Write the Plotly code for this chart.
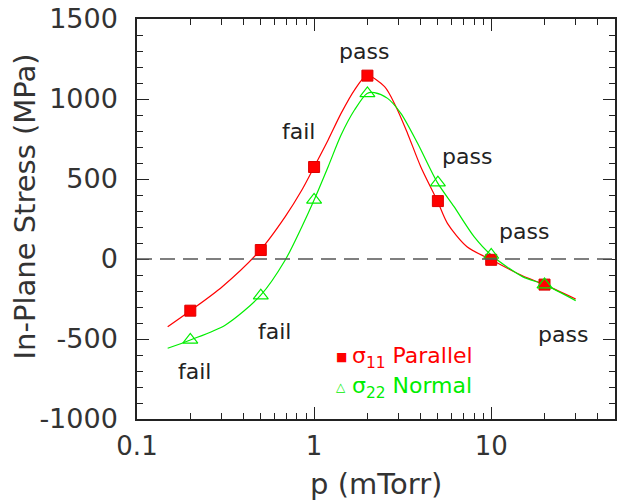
import math
import plotly.graph_objects as go

# measured data points
p_pts = [0.2, 0.5, 1, 2, 5, 10, 20]
s11_pts = [-323, 56, 575, 1146, 362, -5, -160]
s22_pts = [-506, -229, 369, 1035, 477, 25, -160]

# fitted curves
p_fit11 = [0.149, 0.2, 0.303, 0.497, 0.687, 0.853, 1, 1.2, 1.42, 1.69, 1.99, 2.5, 2.9, 3.37, 4.0, 4.97, 5.66, 7.3, 10, 15, 20, 30]
s11_fit = [-423, -323, -173, 56, 265, 431, 575, 744, 910, 1056, 1146, 1077, 952, 785, 577, 362, 223, 77, -5, -105, -160, -250]
p_fit22 = [0.149, 0.2, 0.316, 0.497, 0.687, 0.853, 1, 1.2, 1.42, 1.69, 1.99, 2.19, 2.6, 3.09, 3.84, 4.97, 6.17, 8.0, 10, 15, 20, 30]
s22_fit = [-558, -506, -412, -229, -6, 202, 369, 577, 775, 931, 1035, 1040, 1004, 910, 723, 477, 327, 140, 25, -110, -160, -260]

labels = ["pass", "fail", "pass", "pass", "pass", "fail", "fail"]
label_x = [1.92, 0.813, 7.33, 15.3, 25.4, 0.596, 0.212]
label_y = [1294, 794, 640, 175, -469, -450, -700]

y_ticks = [-1000, -500, 0, 500, 1000, 1500]
y_ticktext = ["-1000", "-500", "0", "500", "1000", "1500"]
x_ticks = [0.1, 1, 10]
x_ticktext = ["0.1", "1", "10"]

RED = "#ff0000"
GREEN = "#00ee00"
FONT = "DejaVu Sans"
TXT = "#222222"

fig = go.Figure()
fig.add_trace(go.Scatter(x=p_fit11, y=s11_fit, mode="lines", line=dict(color=RED, width=1.2, shape="spline", smoothing=0.8), showlegend=False, hoverinfo="skip"))
fig.add_trace(go.Scatter(x=p_fit22, y=s22_fit, mode="lines", line=dict(color=GREEN, width=1.2, shape="spline", smoothing=0.8), showlegend=False, hoverinfo="skip"))
fig.add_trace(go.Scatter(x=p_pts, y=s11_pts, mode="markers", marker=dict(symbol="square", size=11, color=RED, line=dict(color="#dd0000", width=1)), showlegend=False))
fig.add_trace(go.Scatter(x=p_pts, y=s22_pts, mode="markers", marker=dict(symbol="triangle-up-open", size=13, color=GREEN, line=dict(width=1.2)), showlegend=False))

for t, x, y in zip(labels, label_x, label_y):
    fig.add_annotation(x=math.log10(x), y=y, text=t, showarrow=False,
                       font=dict(family=FONT, size=22, color=TXT))

# legend drawn as text
def px2paper(px, py):
    return (px - 137) / 480, (419 - py) / 400

for sym, col, txt, py in [("■", RED, "σ<sub>11</sub> Parallel", 357), ("△", GREEN, "σ<sub>22</sub> Normal", 387)]:
    xp, yp = px2paper(342, py)
    fig.add_annotation(xref="paper", yref="paper", x=xp, y=yp, text=sym, showarrow=False,
                       font=dict(family=FONT, size=12, color=col), xanchor="center", yanchor="middle")
    xp, yp = px2paper(351, py)
    fig.add_annotation(xref="paper", yref="paper", x=xp, y=yp, text=txt, showarrow=False,
                       font=dict(family=FONT, size=22, color=col), xanchor="left", yanchor="middle")

fig.add_shape(type="line", xref="paper", x0=0, x1=1, yref="y", y0=0, y1=0,
              line=dict(color="#555555", width=1.5, dash="15px,8px"))

minor_x = [v * m for m in (0.1, 1, 10) for v in range(2, 10)]
minor_x = [v for v in minor_x if v <= 50]

fig.update_xaxes(type="log", range=[-1, 1.699], tickvals=x_ticks, ticktext=x_ticktext,
                 ticks="inside", ticklen=12, tickwidth=1.3, tickcolor="#222",
                 minor=dict(tickvals=minor_x, ticks="inside", ticklen=6, tickcolor="#222"),
                 showline=True, linecolor="#222", linewidth=1.5, mirror="ticks", showgrid=False, zeroline=False,
                 tickfont=dict(family=FONT, size=26, color="#333"), ticklabelstandoff=3)
fig.update_yaxes(range=[-1000, 1500], tickvals=y_ticks, ticktext=y_ticktext,
                 ticks="inside", ticklen=12, tickwidth=1.3, tickcolor="#222",
                 minor=dict(dtick=100, ticks="inside", ticklen=6, tickcolor="#222"),
                 showline=True, linecolor="#222", linewidth=1.5, mirror="ticks", showgrid=False, zeroline=False,
                 tickfont=dict(family=FONT, size=27, color="#333"), ticklabelstandoff=12)

xp, yp = px2paper(25, 206)
fig.add_annotation(xref="paper", yref="paper", x=xp, y=yp, text="In-Plane Stress (MPa)", textangle=-90,
                   showarrow=False, font=dict(family=FONT, size=29, color="#333"), xanchor="center", yanchor="middle")
xp, yp = px2paper(377, 484)
fig.add_annotation(xref="paper", yref="paper", x=xp, y=yp, text="p (mTorr)",
                   showarrow=False, font=dict(family=FONT, size=29, color="#333"), xanchor="center", yanchor="middle")

fig.update_layout(width=618, height=504, margin=dict(l=137, r=1, t=19, b=85),
                  plot_bgcolor="white", paper_bgcolor="white", showlegend=False)

fig.write_html("out.html")
